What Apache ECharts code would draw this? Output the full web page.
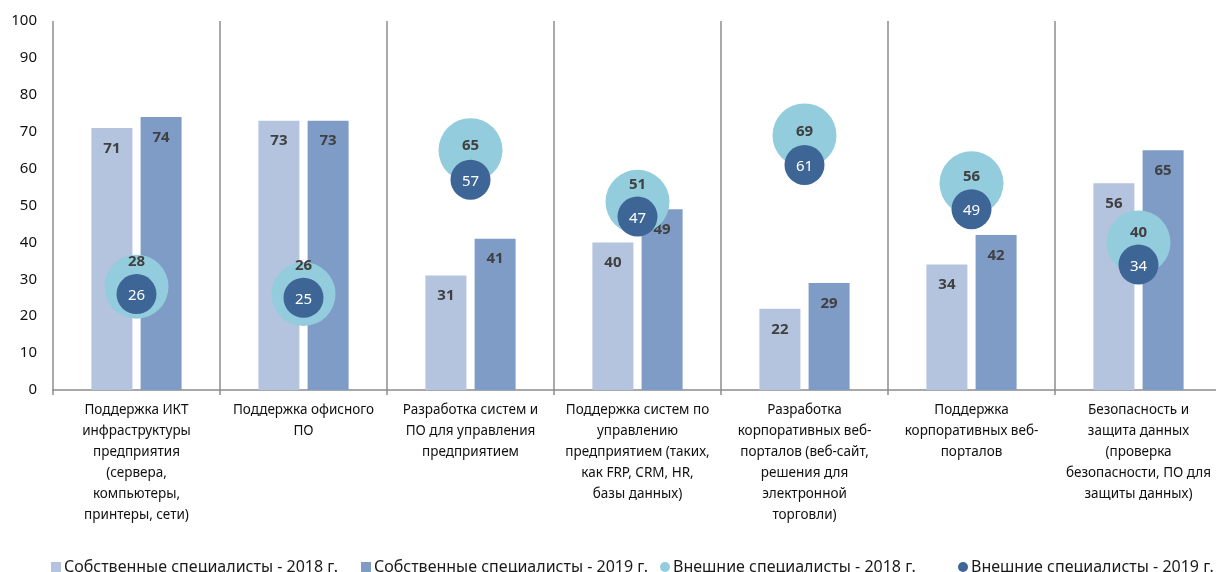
<!DOCTYPE html>
<html>
<head>
<meta charset="utf-8">
<script src="https://cdn.jsdelivr.net/npm/echarts@6/dist/echarts.min.js"></script>
<style>
html,body{margin:0;padding:0;background:#fff;}
#chart{width:1216px;height:572px;}
</style>
</head>
<body>
<div id="chart"></div>
<script>
const categories = [
  "Поддержка ИКТ\nинфраструктуры\nпредприятия\n(сервера,\nкомпьютеры,\nпринтеры, сети)",
  "Поддержка офисного\nПО",
  "Разработка систем и\nПО для управления\nпредприятием",
  "Поддержка систем по\nуправлению\nпредприятием (таких,\nкак FRP, CRM, HR,\nбазы данных)",
  "Разработка\nкорпоративных веб-\nпорталов (веб-сайт,\nрешения для\nэлектронной\nторговли)",
  "Поддержка\nкорпоративных веб-\nпорталов",
  "Безопасность и\nзащита данных\n(проверка\nбезопасности, ПО для\nзащиты данных)"
];
const seriesNames = [
  "Собственные специалисты - 2018 г.",
  "Собственные специалисты - 2019 г.",
  "Внешние специалисты - 2018 г.",
  "Внешние специалисты - 2019 г."
];
const own2018 = [71, 73, 31, 40, 22, 34, 56];
const own2019 = [74, 73, 41, 49, 29, 42, 65];
const ext2018 = [28, 26, 65, 51, 69, 56, 40];
const ext2019 = [26, 25, 57, 47, 61, 49, 34];
const yTicks = {min: 0, max: 100, interval: 10};

const FONT = "'Noto Sans', sans-serif";
const C_OWN18 = '#B4C3DE', C_OWN19 = '#7F9CC7', C_EXT18 = '#93CDDD', C_EXT19 = '#3D6596';
const GRID = {left: 53, top: 21, width: 1169, height: 369};
const BIG = 64, SMALL = 40;
const ppu = GRID.height / (yTicks.max - yTicks.min);

// light-bubble label sits just above the dark bubble (derived from the data)
const ext18Data = ext2018.map((v, i) => {
  const darkTopRel = (v - ext2019[i]) * ppu - SMALL / 2;
  const dy = Math.min(-4, darkTopRel - 12);
  return {value: v, label: {offset: [0, dy]}};
});

const chart = echarts.init(document.getElementById('chart'));
const legendBase = {
  top: 554, itemWidth: 10, itemHeight: 10, itemGap: 0,
  textStyle: {fontFamily: FONT, fontSize: 16, color: '#1a1a1a', padding: [0, 0, 0, -2]}
};
chart.setOption({
  animation: false,
  backgroundColor: '#fff',
  textStyle: {fontFamily: FONT},
  grid: Object.assign({containLabel: false, outerBoundsMode: 'none'}, GRID),
  legend: [
    Object.assign({left: 46, data: [{name: seriesNames[0], icon: 'rect'}]}, legendBase),
    Object.assign({left: 356, data: [{name: seriesNames[1], icon: 'rect'}]}, legendBase),
    Object.assign({left: 655, data: [{name: seriesNames[2], icon: 'circle'}]}, legendBase),
    Object.assign({left: 953, data: [{name: seriesNames[3], icon: 'circle'}]}, legendBase)
  ],
  xAxis: {
    type: 'category',
    data: categories,
    boundaryGap: true,
    axisLine: {show: true, lineStyle: {color: '#8c8c8c', width: 1.5}},
    axisTick: {show: true, length: 5, lineStyle: {color: '#8c8c8c', width: 1.5}},
    splitLine: {show: true, lineStyle: {color: '#8c8c8c', width: 1.5}},
    axisLabel: {interval: 0, fontFamily: FONT, fontSize: 13.5, color: '#111', lineHeight: 21, margin: 10, align: 'center'}
  },
  yAxis: {
    type: 'value',
    min: yTicks.min, max: yTicks.max, interval: yTicks.interval,
    axisLine: {show: false},
    axisTick: {show: false},
    splitLine: {show: false},
    axisLabel: {fontFamily: FONT, fontSize: 15, color: '#111', margin: 16}
  },
  series: [
    {
      name: seriesNames[0], type: 'bar', data: own2018,
      barWidth: 41, barGap: '20%',
      itemStyle: {color: C_OWN18},
      label: {show: true, position: 'insideTop', distance: 13, fontFamily: FONT, fontSize: 15, fontWeight: 'bold', color: '#404040'}
    },
    {
      name: seriesNames[1], type: 'bar', data: own2019,
      barWidth: 41, barGap: '20%',
      itemStyle: {color: C_OWN19},
      label: {show: true, position: 'insideTop', distance: 13, fontFamily: FONT, fontSize: 15, fontWeight: 'bold', color: '#404040'}
    },
    {
      name: seriesNames[2], type: 'scatter', data: ext18Data,
      symbol: 'circle', symbolSize: BIG, z: 3,
      itemStyle: {color: C_EXT18, opacity: 1},
      label: {show: true, position: 'inside', fontFamily: FONT, fontSize: 15, fontWeight: 'bold', color: '#404040'}
    },
    {
      name: seriesNames[3], type: 'scatter', data: ext2019,
      symbol: 'circle', symbolSize: SMALL, z: 4,
      itemStyle: {color: C_EXT19, opacity: 1},
      label: {show: true, position: 'inside', offset: [0, 2], fontFamily: FONT, fontSize: 15, color: '#ffffff'}
    }
  ]
});
</script>
</body>
</html>
